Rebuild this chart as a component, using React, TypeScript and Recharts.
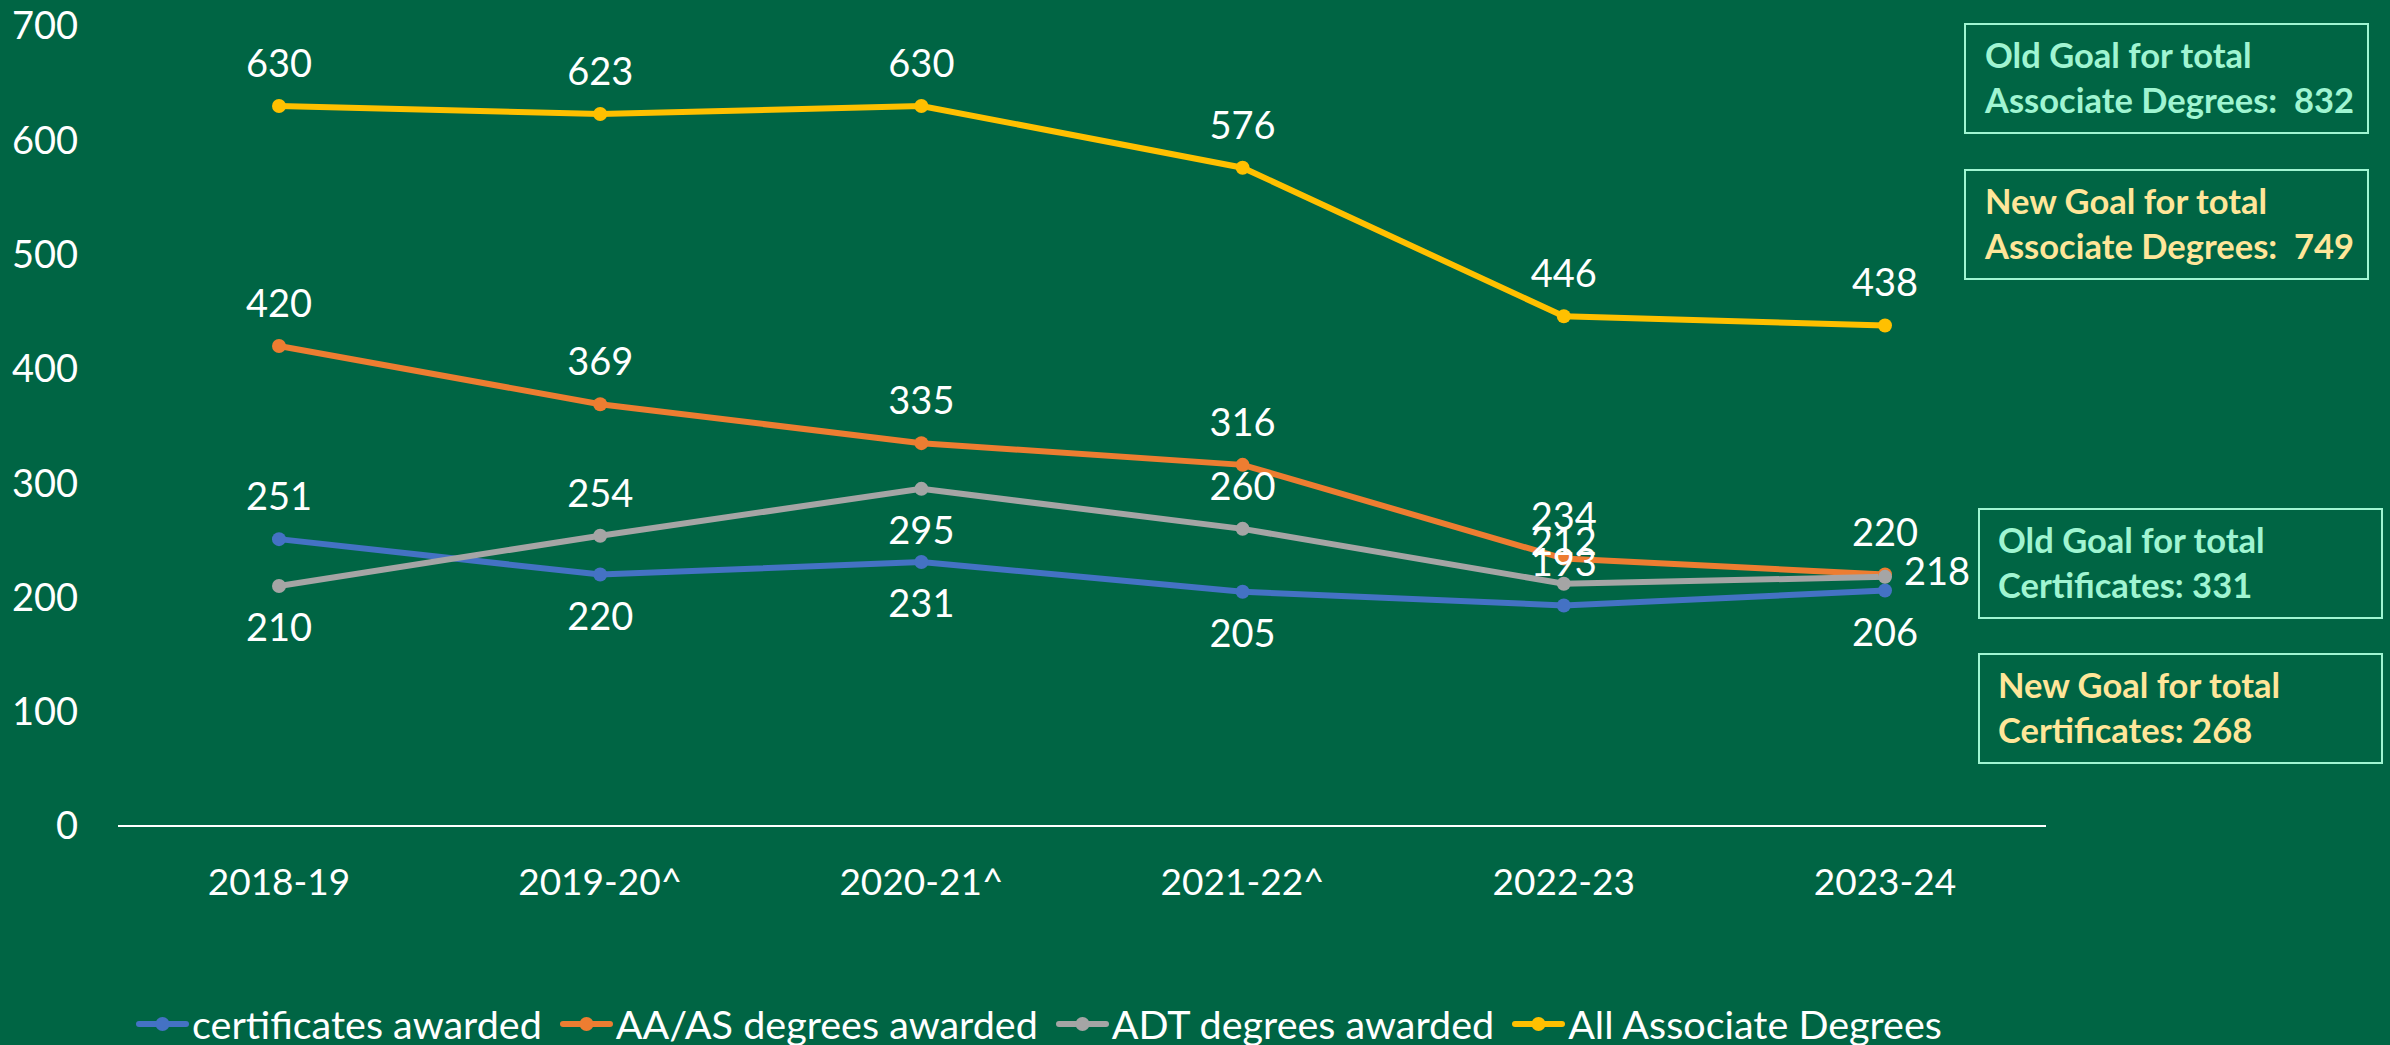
import React from 'react';
import { LineChart, Line, XAxis, YAxis, Legend, LabelList } from 'recharts';

const categories = ['2018-19', '2019-20^', '2020-21^', '2021-22^', '2022-23', '2023-24'];
const certificates = [251, 220, 231, 205, 193, 206];
const aaDegrees = [420, 369, 335, 316, 234, 220];
const adtDegrees = [210, 254, 295, 260, 212, 218];
const allDegrees = [630, 623, 630, 576, 446, 438];
const yTicks = [0, 100, 200, 300, 400, 500, 600, 700];

const certLabelPos = ['top', 'bottom', 'bottom', 'bottom', 'top', 'bottom'];
const aaLabelPos = ['top', 'top', 'top', 'top', 'top', 'top'];
const adtLabelPos = ['bottom', 'top', 'bottom', 'top', 'top', 'right'];
const allLabelPos = ['top', 'top', 'top', 'top', 'top', 'top'];

const goalLines = [
  { lines: ['Old Goal for total', 'Associate Degrees:  832'], color: '#A0F5D2' },
  { lines: ['New Goal for total', 'Associate Degrees:  749'], color: '#FFE699' },
  { lines: ['Old Goal for total', 'Certificates: 331'], color: '#A0F5D2' },
  { lines: ['New Goal for total', 'Certificates: 268'], color: '#FFE699' },
];
const goalBoxPos = [
  { left: 1964, top: 23 },
  { left: 1964, top: 169 },
  { left: 1978, top: 508 },
  { left: 1978, top: 653 },
];

const data = categories.map((c, i) => ({
  year: c,
  cert: certificates[i],
  aa: aaDegrees[i],
  adt: adtDegrees[i],
  all: allDegrees[i],
}));

const series = [
  { key: 'cert', name: 'certificates awarded', color: '#4472C4', pos: certLabelPos },
  { key: 'aa', name: 'AA/AS degrees awarded', color: '#ED7D31', pos: aaLabelPos },
  { key: 'adt', name: 'ADT degrees awarded', color: '#A5A5A5', pos: adtLabelPos },
  { key: 'all', name: 'All Associate Degrees', color: '#FFC000', pos: allLabelPos },
];

const FONT = 'Lato, "Open Sans", sans-serif';
const BG = '#006544';

function makeLabel(pos: string[]) {
  return (props: any) => {
    const x = props.x ?? props.viewBox?.x;
    const y = props.y ?? props.viewBox?.y;
    const index = props.index ?? 0;
    const p = pos[index];
    let tx = x;
    let ty = y - 29;
    let anchor: any = 'middle';
    if (p === 'bottom') ty = y + 55;
    if (p === 'right') {
      tx = x + 19;
      ty = y + 8;
      anchor = 'start';
    }
    return (
      <text x={tx} y={ty} textAnchor={anchor} fill="#FFFFFF" fontSize={38} fontFamily={FONT}>
        {props.value}
      </text>
    );
  };
}

const renderLegend = () => (
  <div
    style={{
      display: 'flex',
      justifyContent: 'center',
      alignItems: 'center',
      height: 44,
      fontFamily: FONT,
      fontSize: 39.5,
      lineHeight: '44px',
      color: '#FFFFFF',
    }}
  >
    {series.map((s, i) => (
      <div key={s.key} style={{ display: 'flex', alignItems: 'center', marginLeft: i ? 18 : 0 }}>
        <svg width={53} height={16} style={{ display: 'block' }}>
          <line x1={3} y1={8} x2={50} y2={8} stroke={s.color} strokeWidth={6} strokeLinecap="round" />
          <circle cx={26.5} cy={8} r={7} fill={s.color} />
        </svg>
        <span style={{ marginLeft: 3, whiteSpace: 'pre' }}>{s.name}</span>
      </div>
    ))}
  </div>
);

export default function App() {
  return (
    <div
      style={{
        position: 'absolute',
        left: 0,
        top: 0,
        width: 2390,
        height: 1045,
        background: BG,
        overflow: 'hidden',
      }}
    >
      <LineChart
        width={2390}
        height={1045}
        data={data}
        margin={{ top: 26, right: 344, bottom: 119, left: 0 }}
      >
        <XAxis
          dataKey="year"
          axisLine={{ stroke: '#FFFFFF', strokeWidth: 2 }}
          tickLine={false}
          tickSize={0}
          tickMargin={43}
          height={100}
          interval={0}
          padding={{ left: 161, right: 161 }}
          tick={{ fill: '#FFFFFF', fontSize: 37, fontFamily: FONT }}
        />
        <YAxis
          domain={[0, 700]}
          ticks={yTicks}
          axisLine={false}
          tickLine={false}
          tickSize={0}
          tickMargin={40}
          width={118}
          interval={0}
          tick={{ fill: '#FFFFFF', fontSize: 38, fontFamily: FONT }}
        />
        <Legend
          content={renderLegend}
          wrapperStyle={{ position: 'absolute', left: 0, top: 1002, bottom: 'auto', width: 2078, height: 0, margin: 0 }}
        />
        {series.map((s) => (
          <Line
            key={s.key}
            type="linear"
            dataKey={s.key}
            name={s.name}
            stroke={s.color}
            strokeWidth={6}
            dot={{ r: 7, fill: s.color, stroke: s.color, strokeWidth: 0 }}
            activeDot={false}
            isAnimationActive={false}
          >
            <LabelList dataKey={s.key} content={makeLabel(s.pos)} />
          </Line>
        ))}
      </LineChart>
      {goalLines.map((g, i) => (
        <div
          key={i}
          style={{
            position: 'absolute',
            left: goalBoxPos[i].left,
            top: goalBoxPos[i].top,
            width: 405,
            height: 111,
            boxSizing: 'border-box',
            border: '2px solid #A0F5D2',
            paddingTop: 7,
            paddingLeft: i < 2 ? 19 : 18,
            fontFamily: FONT,
            fontWeight: 700,
            fontSize: 34.5,
            lineHeight: '45px',
            color: g.color,
            whiteSpace: 'pre',
          }}
        >
          {g.lines.map((l, j) => (
            <div key={j}>{l}</div>
          ))}
        </div>
      ))}
    </div>
  );
}
